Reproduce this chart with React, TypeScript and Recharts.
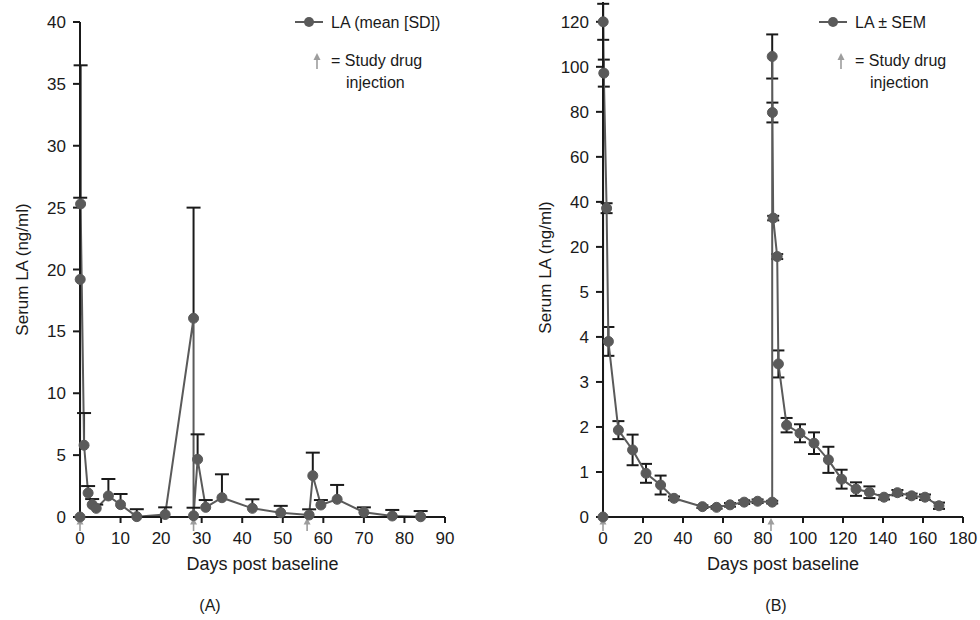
import { ComposedChart, Line, Scatter, XAxis, YAxis, ErrorBar } from "recharts";

const FONT = '"Liberation Sans", Arial, sans-serif';
const INK = "#1a1a1a";
const SERIES = "#5a5a5a";
const ARROW = "#9d9d9d";

// Panel A: LA (mean [SD]), upper SD only
const daysA = [0, 0.05, 0.15, 1, 2, 3, 4, 7, 10, 14, 21, 28, 28, 29, 31, 35, 42.5, 49.5, 56.5, 57.4, 59.4, 63.4, 70, 77, 84];
const meanA = [0, 19.2, 25.3, 5.8, 1.94, 1.0, 0.7, 1.7, 1.0, 0.03, 0.2, 16.06, 0.1, 4.66, 0.78, 1.56, 0.7, 0.35, 0.16, 3.34, 0.97, 1.43, 0.38, 0.08, 0.02];
const sdA = [0, 6.6, 11.2, 2.6, 0.56, 0.45, 0.3, 1.37, 0.86, 0.6, 0.58, 8.94, 0.65, 2.02, 0.59, 1.89, 0.73, 0.55, 0.46, 1.86, 0.4, 1.16, 0.4, 0.49, 0.46];
const injectionsA = [0, 28, 56];
const xTicksA = [0, 10, 20, 30, 40, 50, 60, 70, 80, 90];
const yTicksA = [0, 5, 10, 15, 20, 25, 30, 35, 40];

// Panel B: LA ± SEM, broken y axis (0-5, then 20-120)
const daysB = [0, 0.1, 0.4, 1.8, 2.7, 7.7, 14.8, 21.5, 28.8, 35.5, 49.7, 56.8, 63.5, 70.6, 77.3, 84.6, 84.6, 84.7, 85.1, 87.1, 87.7, 91.8, 98.5, 105.5, 112.7, 119.3, 126.5, 133.2, 140.5, 147.2, 154.3, 161, 168];
const meanB = [0, 120, 97.2, 37.2, 3.9, 1.93, 1.49, 0.97, 0.71, 0.415, 0.23, 0.215, 0.27, 0.33, 0.35, 0.33, 104.6, 79.7, 32.8, 15.7, 3.4, 2.04, 1.86, 1.64, 1.27, 0.84, 0.62, 0.55, 0.44, 0.54, 0.47, 0.44, 0.25];
const semB = [0, 8, 6, 2.2, 0.32, 0.2, 0.34, 0.21, 0.21, 0.04, 0.03, 0.03, 0.04, 0.04, 0.04, 0.03, 9.8, 4.4, 1, 1.1, 0.3, 0.16, 0.2, 0.24, 0.29, 0.21, 0.15, 0.13, 0.05, 0.06, 0.05, 0.06, 0.07];
const injectionsB = [0, 84];
const xTicksB = [0, 20, 40, 60, 80, 100, 120, 140, 160, 180];
const yTickLabelsB = ["0", "1", "2", "3", "4", "5", "20", "40", "60", "80", "100", "120"];

// lower segment is linear 0-5, upper segment: 20 ng/ml per tick step
const brk = (v: number) => (v <= 5 ? v : 5 + v / 20);

const dataA = daysA.map((day, i) => ({ day, la: meanA[i], err: [0, sdA[i]] }));
const capsA = daysA
  .map((day, i) => ({ day, cap: meanA[i] + sdA[i], sd: sdA[i] }))
  .filter((d) => d.sd > 0);

const dataB = daysB.map((day, i) => {
  const v = meanB[i];
  const e = semB[i];
  return { day, la: brk(v), err: [brk(v) - brk(Math.max(v - e, 0)), brk(v + e) - brk(v)] };
});

const arrowsA = injectionsA.map((day) => ({ day, y: 0 }));
const arrowsB = injectionsB.map((day) => ({ day, y: 0 }));

const InjectionArrow = (p: any) => (
  <g>
    <line x1={p.cx} y1={p.cy + 5} x2={p.cx} y2={p.cy + 14} stroke={ARROW} strokeWidth={1.6} />
    <path d={`M${p.cx},${p.cy + 1} L${p.cx - 3.5},${p.cy + 7.5} L${p.cx + 3.5},${p.cy + 7.5} Z`} fill={ARROW} />
  </g>
);

const Cap = (p: any) => (
  <line x1={p.cx - 7} x2={p.cx + 7} y1={p.cy} y2={p.cy} stroke={INK} strokeWidth={2} />
);

const YTitle = (shift: number) => (p: any) => {
  const vb = p.viewBox;
  const x = vb.x + 5;
  const y = vb.y + vb.height / 2 + shift;
  return (
    <text
      x={x}
      y={y}
      transform={`rotate(-90 ${x} ${y})`}
      textAnchor="middle"
      dominantBaseline="central"
      fill={INK}
      fontSize={17}
    >
      Serum LA (ng/ml)
    </text>
  );
};

const tickStyle = { fill: INK, fontSize: 17 };
const axisStroke = { stroke: INK, strokeWidth: 2 };

function Legend({ x, label }: { x: number; label: string }) {
  return (
    <g fontSize={16} fill={INK}>
      <line x1={x} x2={x + 28} y1={22} y2={22} stroke={SERIES} strokeWidth={2} />
      <circle cx={x + 14} cy={22} r={5} fill={SERIES} />
      <text x={x + 36} y={22} dominantBaseline="central">{label}</text>
      <line x1={x + 22} x2={x + 22} y1={57} y2={69} stroke={ARROW} strokeWidth={1.6} />
      <path d={`M${x + 22},${53} L${x + 18.5},${60} L${x + 25.5},${60} Z`} fill={ARROW} />
      <text x={x + 36} y={60} dominantBaseline="central">= Study drug</text>
      <text x={x + 51} y={82} dominantBaseline="central">injection</text>
    </g>
  );
}

export default function App() {
  return (
    <div style={{ position: "absolute", left: 0, top: 0, width: 980, height: 620, background: "#fff", fontFamily: FONT }}>
      <div style={{ position: "absolute", left: 0, top: 0 }}>
        <ComposedChart width={480} height={620} data={dataA} margin={{ top: 22, right: 35, bottom: 73, left: 17 }}>
          <XAxis
            dataKey="day"
            type="number"
            domain={[0, 90]}
            ticks={xTicksA}
            tick={tickStyle}
            tickSize={6}
            tickMargin={9}
            axisLine={axisStroke}
            tickLine={axisStroke}
            height={30}
            label={{ value: "Days post baseline", position: "bottom", offset: 10, fill: INK, fontSize: 18 }}
          />
          <YAxis
            type="number"
            domain={[0, 40]}
            ticks={yTicksA}
            tick={tickStyle}
            tickSize={7}
            tickMargin={7}
            axisLine={axisStroke}
            tickLine={axisStroke}
            width={63}
            label={{ content: YTitle(0) }}
          />
          <Scatter data={arrowsA} dataKey="y" shape={InjectionArrow} isAnimationActive={false} />
          <Line dataKey="la" stroke={SERIES} strokeWidth={2} dot={{ r: 5, fill: SERIES, stroke: SERIES, strokeWidth: 1 }} activeDot={false} isAnimationActive={false}>
            <ErrorBar dataKey="err" width={0} stroke={INK} strokeWidth={2} direction="y" />
          </Line>
          <Scatter data={capsA} dataKey="cap" shape={Cap} isAnimationActive={false} />
        </ComposedChart>
      </div>
      <div style={{ position: "absolute", left: 500, top: 0 }}>
        <ComposedChart width={480} height={620} data={dataB} margin={{ top: 2, right: 17, bottom: 73, left: 40 }}>
          <XAxis
            dataKey="day"
            type="number"
            domain={[0, 180]}
            ticks={xTicksB}
            tick={tickStyle}
            tickSize={6}
            tickMargin={9}
            axisLine={axisStroke}
            tickLine={axisStroke}
            height={30}
            label={{ value: "Days post baseline", position: "bottom", offset: 10, fill: INK, fontSize: 18 }}
          />
          <YAxis
            type="number"
            domain={[0, 11.44]}
            ticks={yTickLabelsB.map((_, i) => i)}
            tickFormatter={(v: number) => yTickLabelsB[v] ?? ""}
            tick={tickStyle}
            tickSize={7}
            tickMargin={7}
            axisLine={axisStroke}
            tickLine={axisStroke}
            width={63}
            label={{ content: YTitle(8) }}
          />
          <Scatter data={arrowsB} dataKey="y" shape={InjectionArrow} isAnimationActive={false} />
          <Line dataKey="la" stroke={SERIES} strokeWidth={2} dot={{ r: 5, fill: SERIES, stroke: SERIES, strokeWidth: 1 }} activeDot={false} isAnimationActive={false}>
            <ErrorBar dataKey="err" width={6} stroke={INK} strokeWidth={2} direction="y" />
          </Line>
        </ComposedChart>
      </div>
      <svg width={980} height={620} style={{ position: "absolute", left: 0, top: 0, pointerEvents: "none" }}>
        <Legend x={295} label="LA (mean [SD])" />
        <Legend x={819} label="LA ± SEM" />
        <text x={210} y={605} textAnchor="middle" dominantBaseline="central" fontSize={16} fill={INK}>(A)</text>
        <text x={776} y={605} textAnchor="middle" dominantBaseline="central" fontSize={16} fill={INK}>(B)</text>
      </svg>
    </div>
  );
}
